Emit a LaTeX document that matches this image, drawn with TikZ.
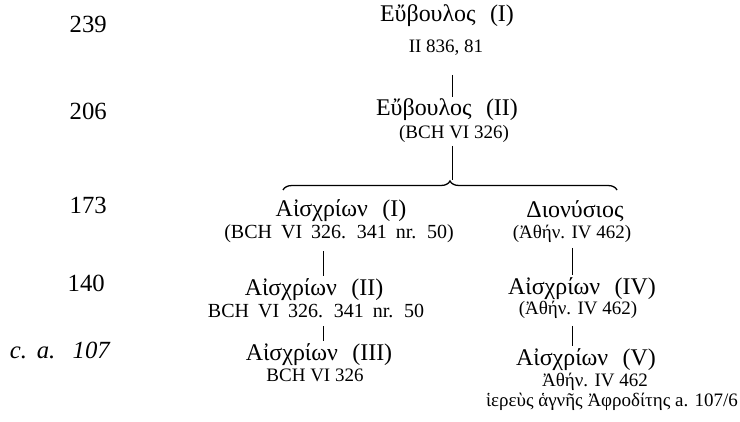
\documentclass[tikz,border=0pt]{standalone}
\usepackage{fontspec}
\setmainfont{Liberation Serif}
\usetikzlibrary{decorations.pathreplacing}
\newcommand\wgap{\hspace{0.6em}}
\newcommand\widesp{\spaceskip=9pt plus 2pt\relax}

\begin{document}
\begin{tikzpicture}[x=1pt, y=1pt, yscale=-1,
  yr/.style={anchor=east, inner sep=0pt, scale=1.3, font=\fontsize{19}{21}\selectfont},
  pers/.style={inner sep=0pt, scale=1.26, font=\fontsize{19}{21}\selectfont},
  src/.style={inner sep=0pt, font=\fontsize{19}{21}\selectfont},
  srcw/.style={src, font=\fontsize{20}{22}\selectfont\widesp},
  stem/.style={line width=0.9pt}]
\useasboundingbox (0,0) rectangle (740,422);
\node[yr] (y239) at (107,24) {239};
\node[yr] (y206) at (107,111) {206};
\node[yr] (y173) at (107,205) {173};
\node[yr] (y140) at (105,283) {140};
\node[yr] (y107) at (110,350) {\itshape c.\hspace{0.4em}a.\hspace{0.7em}107};
\coordinate (stemA) at (452,0);
\coordinate (stemL) at (323,0);
\coordinate (stemR) at (572,0);
\node[pers] (eubI) at (447,16) {Εὔβουλος\wgap(I)};
\node[src] (eubIref) at (446,48) {II 836, 81};
\node[pers] (eubII) at (447,110) {Εὔβουλος\wgap(II)};
\node[src] (eubIIref) at (454,134) {(BCH VI 326)};
\node[pers] (aisI) at (341,211) {Αἰσχρίων\wgap(I)};
\node[srcw] (aisIref) at (339,234) {(BCH VI 326. 341 nr. 50)};
\node[pers] (dion) at (575,211) {Διονύσιος};
\node[src] (dionref) at (572,234) {(Ἀθήν. IV 462)};
\node[pers] (aisII) at (314,290) {Αἰσχρίων\wgap(II)};
\node[srcw] (aisIIref) at (316,311) {BCH VI 326. 341 nr. 50};
\node[pers] (aisIV) at (582,289) {Αἰσχρίων\wgap(IV)};
\node[src] (aisIVref) at (578,310) {(Ἀθήν. IV 462)};
\node[pers] (aisIII) at (319,355) {Αἰσχρίων\wgap(III)};
\node[src] (aisIIIref) at (315,375) {BCH VI 326};
\node[pers] (aisV) at (586,360) {Αἰσχρίων\wgap(V)};
\node[src] (aisVref) at (595,382) {Ἀθήν. IV 462};
\node[src] (aisVnote) at (612,402) {ἱερεὺς ἁγνῆς Ἀφροδίτης a. 107/6};
\coordinate (braceL) at (283,190);
\coordinate (braceR) at (617,190);
\draw[stem] (eubIref.south -| stemA) ++(0,19) -- ([yshift=-2pt]eubII.north -| stemA);
\draw[stem] (eubIIref.south -| stemA) ++(0,3) -- (452,180);
\draw[line width=1.3pt, decorate, decoration={brace, amplitude=9pt}] (braceL) -- (braceR);
\draw[stem] (aisIref.south -| stemL) ++(0,8) -- ([yshift=-3pt]aisII.north -| stemL);
\draw[stem] (aisIIref.south -| stemL) ++(0,8) -- ([yshift=-3pt]aisIII.north -| stemL);
\draw[stem] (dionref.south -| stemR) ++(0,5) -- ([yshift=-3pt]aisIV.north -| stemR);
\draw[stem] (aisIVref.south -| stemR) ++(0,7) -- ([yshift=-3pt]aisV.north -| stemR);
\end{tikzpicture}
\end{document}
